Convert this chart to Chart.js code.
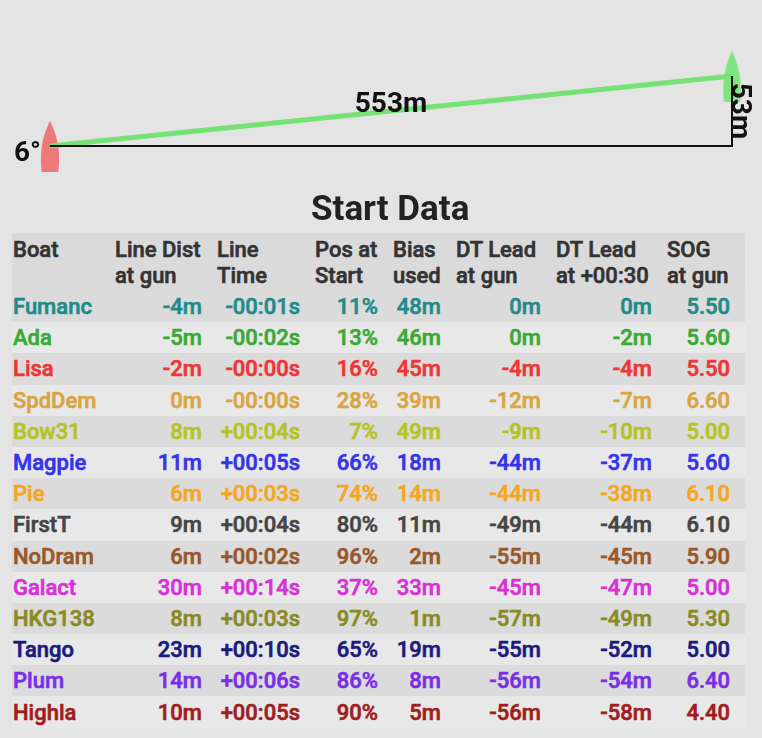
<!DOCTYPE html>
<html>
<head>
<meta charset="utf-8">
<script src="https://cdn.jsdelivr.net/npm/chart.js@4.4.1/dist/chart.umd.min.js"></script>
<style>
  html, body { margin: 0; padding: 0; background: #e4e4e4; }
  body { width: 762px; height: 738px; position: relative; overflow: hidden; font-family: Roboto, "Noto Sans", sans-serif; }
  #lineWrap { position: absolute; left: 0; top: 0; width: 762px; height: 190px; }
  #title { position: absolute; left: 311px; top: 187px; font-size: 35px; font-weight: 700; color: #222; line-height: 44px; }
  #startTable { position: absolute; left: 12px; top: 233px; width: 733px; border-collapse: collapse; table-layout: fixed; background: #e8e8e8; }
  #startTable th, #startTable td { padding: 0 10px 0 5px; white-space: nowrap; font-size: 22px; font-weight: 500; -webkit-text-stroke: 0.6px currentColor; }
  #startTable th { text-align: left; color: #333; line-height: 26px; padding-top: 4px; padding-bottom: 2px; background: #dadada; vertical-align: top; }
  #startTable td { text-align: right; height: 31.2px; line-height: 31px; }
  #startTable td:first-child, #startTable th:first-child { text-align: left; padding-left: 1px; }
  #startTable td:last-child, #startTable th:last-child { padding-right: 15px; }
  #startTable tbody tr:nth-child(odd) { background: #dbdbdb; }
</style>
</head>
<body>
<div id="lineWrap"><canvas id="lineChart" width="762" height="190"></canvas></div>
<div id="title">Start Data</div>
<table id="startTable">
  <colgroup>
    <col style="width:98px"><col style="width:102px"><col style="width:98px"><col style="width:78px">
    <col style="width:63px"><col style="width:100px"><col style="width:111px"><col style="width:83px">
  </colgroup>
  <thead><tr id="headRow"></tr></thead>
  <tbody id="tableBody"></tbody>
</table>
<script>
// start line
var lineLength = 553;
var lineBias = 53;
var lineAngle = 6;

// table data
var headers = ['Boat', 'Line Dist<br>at gun', 'Line<br>Time', 'Pos at<br>Start', 'Bias<br>used', 'DT Lead<br>at gun', 'DT Lead<br>at +00:30', 'SOG<br>at gun'];
var boats = ['Fumanc', 'Ada', 'Lisa', 'SpdDem', 'Bow31', 'Magpie', 'Pie', 'FirstT', 'NoDram', 'Galact', 'HKG138', 'Tango', 'Plum', 'Highla'];
var lineDist = [-4, -5, -2, 0, 8, 11, 6, 9, 6, 30, 8, 23, 14, 10];
var lineTime = ['-00:01s', '-00:02s', '-00:00s', '-00:00s', '+00:04s', '+00:05s', '+00:03s', '+00:04s', '+00:02s', '+00:14s', '+00:03s', '+00:10s', '+00:06s', '+00:05s'];
var posAtStart = [11, 13, 16, 28, 7, 66, 74, 80, 96, 37, 97, 65, 86, 90];
var biasUsed = [48, 46, 45, 39, 49, 18, 14, 11, 2, 33, 1, 19, 8, 5];
var dtLeadGun = [0, 0, -4, -12, -9, -44, -44, -49, -55, -45, -57, -55, -56, -56];
var dtLead30 = [0, -2, -4, -7, -10, -37, -38, -44, -45, -47, -49, -52, -54, -58];
var sogGun = [5.5, 5.6, 5.5, 6.6, 5.0, 5.6, 6.1, 6.1, 5.9, 5.0, 5.3, 5.0, 6.4, 4.4];
var boatColors = ['#1f8b8b', '#3aa935', '#ef3535', '#d9a543', '#b7c222', '#3535e8', '#f5a623', '#454545', '#99582a', '#d631d6', '#8a8a25', '#1b1b7c', '#7a2ee8', '#a11c1c'];

// build the table
var headRow = document.getElementById('headRow');
headers.forEach(function(h){
  var th = document.createElement('th');
  th.innerHTML = h;
  headRow.appendChild(th);
});
var tbody = document.getElementById('tableBody');
for (var i in boats) {
  var cells = [boats[i], lineDist[i] + 'm', lineTime[i], posAtStart[i] + '%', biasUsed[i] + 'm',
               dtLeadGun[i] + 'm', dtLead30[i] + 'm', sogGun[i].toFixed(2)];
  var tr = document.createElement('tr');
  cells.forEach(function(c){
    var td = document.createElement('td');
    td.textContent = c;
    td.style.color = boatColors[i];
    tr.appendChild(td);
  });
  tbody.appendChild(tr);
}

// boat icons used as point styles
function makeBoat(w, h, fill, roundStern) {
  var c = document.createElement('canvas');
  c.width = w; c.height = h;
  var g = c.getContext('2d');
  g.fillStyle = fill;
  g.beginPath();
  g.moveTo(w / 2, 0);
  g.bezierCurveTo(w * 0.75, h * 0.25, w, h * 0.5, w * 0.88, h);
  if (roundStern) {
    g.quadraticCurveTo(w / 2, h * 1.02, w * 0.12, h);
  } else {
    g.lineTo(w * 0.12, h);
  }
  g.bezierCurveTo(0, h * 0.5, w * 0.25, h * 0.25, w / 2, 0);
  g.closePath();
  g.fill();
  return c;
}
var pinBoat = makeBoat(22, 51, 'rgba(238,112,112,0.92)', false);
var cbBoat = makeBoat(21, 51, 'rgba(100,228,100,0.8)', true);

var run = Math.sqrt(lineLength * lineLength - lineBias * lineBias);

var labelPlugin = {
  id: 'lineLabels',
  afterDatasetsDraw: function(chart) {
    var ctx = chart.ctx;
    var xs = chart.scales.x, ys = chart.scales.y;
    var px = xs.getPixelForValue(0), py = ys.getPixelForValue(0);
    var bx = xs.getPixelForValue(run), by = ys.getPixelForValue(lineBias);
    ctx.save();
    ctx.fillStyle = '#111';
    ctx.font = 'bold 28px Roboto';
    ctx.textBaseline = 'alphabetic';
    ctx.textAlign = 'center';
    ctx.fillText(lineLength + 'm', (px + bx) / 2, (py + by) / 2 + 1);
    ctx.textAlign = 'right';
    ctx.fillText(lineAngle + '°', px - 9, py + 15);
    ctx.translate(bx, (py + by) / 2);
    ctx.rotate(Math.PI / 2);
    ctx.textAlign = 'center';
    ctx.fillText(lineBias + 'm', 0, 0);
    ctx.restore();
  }
};

new Chart(document.getElementById('lineChart'), {
  type: 'scatter',
  data: {
    datasets: [
      {
        label: 'base',
        data: [{x: 0, y: 0}, {x: run, y: 0}, {x: run, y: lineBias}],
        showLine: true,
        borderColor: '#111',
        borderWidth: 2,
        pointRadius: 0
      },
      {
        label: 'line',
        data: [{x: 0, y: 0}, {x: run, y: lineBias}],
        showLine: true,
        borderColor: '#74e274',
        borderWidth: 5,
        pointRadius: 0
      },
      {
        label: 'boats',
        data: [{x: 0, y: 0}, {x: run, y: lineBias}],
        showLine: false,
        pointStyle: [pinBoat, cbBoat],
        pointRadius: 10
      }
    ]
  },
  options: {
    responsive: false,
    animation: false,
    clip: false,
    layout: { padding: { left: 50, right: 30, top: 76, bottom: 44 } },
    plugins: { legend: { display: false }, tooltip: { enabled: false } },
    scales: {
      x: { type: 'linear', min: 0, max: run, display: false },
      y: { type: 'linear', min: 0, max: lineBias, display: false }
    }
  },
  plugins: [labelPlugin]
});
</script>
</body>
</html>
